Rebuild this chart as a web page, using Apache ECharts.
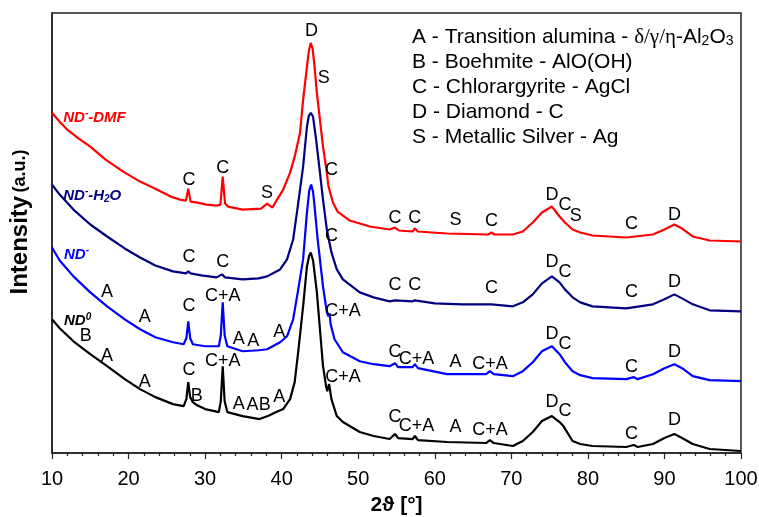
<!DOCTYPE html>
<html>
<head>
<meta charset="utf-8">
<script src="https://cdn.jsdelivr.net/npm/echarts@6/dist/echarts.min.js"></script>
<style>
  html, body { margin: 0; padding: 0; background: #fff; }
  #chart { width: 759px; height: 517px; }
</style>
</head>
<body>
<div id="chart"></div>
<script>
// 2theta [deg], intensity (a.u., offset stacked as in the figure)
var ndDmf = [
  [10, 341], [11, 332], [12, 324], [13.5, 315], [15, 307], [17, 294], [19.3, 282], [21.5, 272],
  [23.7, 264], [25.5, 257], [26.7, 254], [27.5, 253], [27.8, 265], [28.1, 252], [29, 251],
  [30.2, 249], [31.5, 248], [32.0, 249], [32.3, 277], [32.6, 250], [33, 247], [34.9, 244],
  [37.3, 245], [38.1, 250], [38.8, 246], [39.4, 254], [40.2, 264], [41.1, 281], [41.7, 297],
  [42.4, 321], [42.8, 354], [43.3, 387], [43.55, 403], [43.8, 411], [44.05, 405], [44.3, 387],
  [44.6, 361], [45.0, 334], [45.4, 307], [45.9, 281], [46.1, 268], [46.3, 262], [46.7, 251],
  [47.3, 242], [48.9, 233], [51.5, 227], [54.1, 224], [54.8, 226], [55.3, 223], [57.1, 222],
  [57.4, 225], [57.8, 222], [61.6, 220], [67.0, 219], [67.4, 221], [67.8, 219], [70.2, 219],
  [71.5, 222], [72.8, 231], [74, 241], [75.3, 247], [76.3, 237], [77, 231], [78, 224], [79, 221],
  [80.6, 218], [85, 216], [88.5, 219], [90, 224], [91.3, 229], [92.3, 225], [93.7, 217],
  [95.9, 213], [100, 212]
];
var ndH2o = [
  [10, 269], [11, 259], [12.8, 244], [15, 229], [17.2, 217], [19.5, 205], [21.5, 196], [23.5, 188],
  [25.8, 182], [27.5, 180], [27.8, 182], [28.1, 180], [29.5, 178], [31.5, 176], [32.2, 179],
  [32.6, 176], [34.9, 174], [37, 175], [38.1, 177], [39.8, 184], [40.7, 194], [41.5, 214],
  [42.1, 247], [42.8, 287], [43.3, 327], [43.55, 338], [43.8, 341], [44.1, 337], [44.5, 314],
  [45.0, 281], [45.4, 254], [45.9, 224], [46.5, 201], [47.2, 184], [48, 174], [50.2, 161],
  [52, 156], [54.1, 152], [54.8, 153], [57.1, 152], [57.4, 153], [60, 150], [63.6, 149],
  [67.4, 149], [70.2, 147], [71.5, 151], [72.8, 159], [74, 170], [75.3, 177], [76.3, 171],
  [77, 164], [78, 156], [79, 151], [80.6, 147], [85, 145], [88.5, 149], [90, 154], [91.3, 159],
  [92.3, 155], [93.7, 149], [95.9, 143], [100, 142]
];
var ndMinus = [
  [10, 206], [11, 193], [12.8, 177], [15, 161], [17.2, 147], [19.5, 134], [21.5, 124], [23.5, 116],
  [25.8, 111], [27.2, 109], [27.55, 115], [27.8, 132], [28.05, 115], [28.4, 109], [30, 107],
  [31.8, 107], [32.05, 118], [32.3, 151], [32.55, 118], [32.9, 107], [34.9, 102], [37, 103],
  [38.1, 104], [39.8, 111], [40.7, 117], [41.5, 134], [42.1, 161], [42.8, 194], [43.3, 241],
  [43.6, 263], [43.85, 269], [44.1, 262], [44.3, 247], [44.7, 214], [45.4, 167], [45.9, 141],
  [46.1, 137], [46.25, 140], [46.4, 129], [46.9, 114], [48, 101], [50.2, 92], [52, 89], [54.1, 87],
  [54.8, 90], [55.2, 86], [57.1, 86], [57.4, 89], [57.8, 85], [61.6, 79], [66.7, 79], [67.2, 82],
  [67.7, 79], [70.2, 77], [71.5, 82], [72.8, 91], [74, 102], [75.3, 107], [76.3, 99], [77, 91],
  [78, 82], [79, 78], [80.6, 75], [85, 74], [86, 76], [86.5, 74], [88.5, 79], [90, 85], [91.3, 89],
  [92.3, 85], [93.7, 77], [95.9, 73], [100, 72]
];
var ndZero = [
  [10, 134], [11, 125], [12.8, 112], [15, 99], [17.2, 87], [19.5, 74], [21.5, 64], [23.5, 56],
  [25.8, 49], [27.2, 47], [27.55, 54], [27.8, 71], [28.05, 56], [28.4, 51], [28.9, 48], [30, 44],
  [31.8, 41], [32.05, 52], [32.3, 87], [32.55, 52], [32.9, 41], [34.9, 37], [37.1, 34], [38.2, 37],
  [39.3, 41], [40.2, 44], [41.1, 54], [41.7, 71], [42.2, 104], [42.8, 147], [43.3, 187],
  [43.6, 198], [43.8, 201], [44.1, 193], [44.6, 161], [45.0, 124], [45.4, 87], [45.8, 67],
  [45.95, 62], [46.2, 69], [46.5, 54], [47.2, 37], [48, 31], [50.2, 21], [52, 17], [54.1, 14],
  [54.8, 19], [55.2, 15], [57.1, 14], [57.4, 17], [57.8, 13], [61.6, 11], [66.7, 10], [67.2, 13],
  [67.7, 10], [70.2, 7], [71.5, 12], [72.8, 21], [74, 32], [75.3, 37], [76.3, 31], [76.8, 27],
  [78, 12], [79, 9], [80.6, 7], [85, 6], [86, 8], [86.5, 6], [88.5, 9], [90, 15], [91.3, 19],
  [92.3, 15], [93.7, 9], [95.9, 4], [100, 2]
];

// phase marks: [2theta, height, text]
var dmfMarks = [
  [43.9, 423, 'D'], [45.5, 376, 'S'], [46.5, 284, 'C'], [27.9, 274, 'C'], [32.3, 286, 'C'],
  [38.1, 261, 'S'], [54.8, 236, 'C'], [57.4, 236, 'C'], [62.7, 233, 'S'], [67.4, 232, 'C'],
  [75.3, 259, 'D'], [77, 249, 'C'], [78.4, 238, 'S'], [85.7, 229, 'C'], [91.3, 239, 'D']
];
var h2oMarks = [
  [27.9, 196, 'C'], [32.3, 191, 'C'], [46.5, 217, 'C'], [54.8, 168, 'C'], [57.4, 168, 'C'],
  [67.4, 165, 'C'], [75.3, 191, 'D'], [77, 181, 'C'], [85.7, 161, 'C'], [91.3, 171, 'D']
];
var minusMarks = [
  [17.2, 161, 'A'], [22.1, 136, 'A'], [27.9, 147, 'C'], [32.3, 157, 'C+A'], [34.4, 114, 'A'],
  [36.3, 112, 'A'], [39.7, 121, 'A'], [48, 142, 'C+A'], [54.8, 101, 'C'], [57.6, 94, 'C+A'],
  [62.7, 91, 'A'], [67.2, 89, 'C+A'], [75.3, 119, 'D'], [77, 109, 'C'], [85.7, 86, 'C'], [91.3, 101, 'D']
];
var zeroMarks = [
  [14.4, 117, 'B'], [17.2, 97, 'A'], [22.1, 71, 'A'], [27.9, 83, 'C'], [28.9, 57, 'B'],
  [32.3, 92, 'C+A'], [34.4, 49, 'A'], [36.2, 48, 'A'], [37.8, 48, 'B'], [39.7, 56, 'A'],
  [48, 76, 'C+A'], [54.8, 36, 'C'], [57.6, 27, 'C+A'], [62.7, 26, 'A'], [67.2, 23, 'C+A'],
  [75.3, 51, 'D'], [77, 42, 'C'], [85.7, 19, 'C'], [91.3, 33, 'D']
];

// sample names next to each trace
var sampleNames = [
  [11.4, 336, '{n|ND}{sup|-}{n|-DMF}', '#ff0000'],
  [11.4, 258, '{n|ND}{sup|-}{n|-H}{sub|2}{n|O}', '#000080'],
  [11.5, 199, '{n|ND}{sup|-}', '#0000ff'],
  [11.5, 132, '{n|ND}{sup|0}', '#000000']
];

var keyLines = [
  'A - Transition alumina - {g|δ/γ/η}-Al{sub|2}O{sub|3}',
  'B - Boehmite - AlO(OH)',
  'C - Chlorargyrite - AgCl',
  'D - Diamond - C',
  'S - Metallic Silver - Ag'
];

var FONT = 'Liberation Sans, Arial, sans-serif';
var chart = echarts.init(document.getElementById('chart'));

function traceSeries(name, data, color) {
  return {
    name: name,
    type: 'line',
    data: data,
    showSymbol: false,
    silent: true,
    lineStyle: { color: color, width: 2.2 },
    z: 3
  };
}

function markSeries(marks) {
  return {
    type: 'scatter',
    data: marks,
    symbolSize: 1,
    silent: true,
    itemStyle: { color: 'rgba(0,0,0,0)', opacity: 1 },
    label: {
      show: true,
      position: 'inside',
      formatter: function (p) { return p.data[2]; },
      color: '#000',
      fontSize: 18,
      fontFamily: FONT
    },
    z: 4
  };
}

var nameItems = sampleNames.map(function (s) {
  return {
    value: [s[0], s[1]],
    label: { formatter: s[2], color: s[3] }
  };
});

var graphics = keyLines.map(function (t, i) {
  return {
    type: 'text',
    left: 412,
    top: 27 + i * 25,
    style: {
      text: t,
      fill: '#000',
      fontSize: 21,
      fontFamily: FONT,
      rich: {
        g: { fontSize: 21, fontFamily: 'Liberation Serif, Times New Roman, serif', fill: '#000' },
        sub: { fontSize: 14, fill: '#000', padding: [8, 0, 0, 0] }
      }
    }
  };
});
graphics.push({
  type: 'text',
  x: 20,
  y: 222,
  rotation: Math.PI / 2,
  style: {
    text: '{a|Intensity} {b|(a.u.)}',
    align: 'center',
    verticalAlign: 'middle',
    fill: '#000',
    rich: {
      a: { fontSize: 24, fontWeight: 'bold', fontFamily: FONT, fill: '#000' },
      b: { fontSize: 18, fontWeight: 'bold', fontFamily: FONT, fill: '#000' }
    }
  }
});

chart.setOption({
  animation: false,
  backgroundColor: '#fff',
  grid: {
    left: 52, right: 18, top: 13, bottom: 64,
    outerBoundsMode: 'none',
    containLabel: false,
    show: true, borderColor: '#222', borderWidth: 1.5
  },
  xAxis: {
    type: 'value',
    min: 10, max: 100, interval: 10,
    name: '2ϑ [°]',
    nameLocation: 'middle',
    nameGap: 42,
    nameTextStyle: { fontSize: 21, fontWeight: 'bold', color: '#000', fontFamily: FONT },
    axisLine: { show: true, lineStyle: { color: '#222', width: 1.5 } },
    axisTick: { show: true, length: 6, lineStyle: { color: '#222', width: 1.2 } },
    minorTick: { show: true, splitNumber: 5, length: 3, lineStyle: { color: '#222', width: 1.2 } },
    axisLabel: { fontSize: 20, color: '#000', margin: 16, fontFamily: FONT },
    splitLine: { show: false }
  },
  yAxis: {
    type: 'value',
    min: 0, max: 441,
    axisLine: { show: true, lineStyle: { color: '#222', width: 1.5 } },
    axisTick: { show: false },
    axisLabel: { show: false },
    splitLine: { show: false }
  },
  graphic: graphics,
  series: [
    traceSeries('ND0', ndZero, '#000000'),
    traceSeries('ND-', ndMinus, '#0000ff'),
    traceSeries('ND--H2O', ndH2o, '#000080'),
    traceSeries('ND--DMF', ndDmf, '#ff0000'),
    markSeries(dmfMarks),
    markSeries(h2oMarks),
    markSeries(minusMarks),
    markSeries(zeroMarks),
    {
      type: 'scatter',
      data: nameItems,
      symbolSize: 1,
      silent: true,
      itemStyle: { color: 'rgba(0,0,0,0)', opacity: 1 },
      label: {
        show: true,
        position: 'right',
        distance: 0,
        rich: {
          n: { fontSize: 15, fontWeight: 'bold', fontStyle: 'italic', fontFamily: FONT },
          sup: { fontSize: 10, fontWeight: 'bold', fontStyle: 'italic', fontFamily: FONT, padding: [0, 0, 9, 0] },
          sub: { fontSize: 10, fontWeight: 'bold', fontStyle: 'italic', fontFamily: FONT, padding: [8, 0, 0, 0] }
        }
      },
      z: 4
    }
  ]
});

window.addEventListener('resize', function () {
  chart.resize();
});
</script>
</body>
</html>
